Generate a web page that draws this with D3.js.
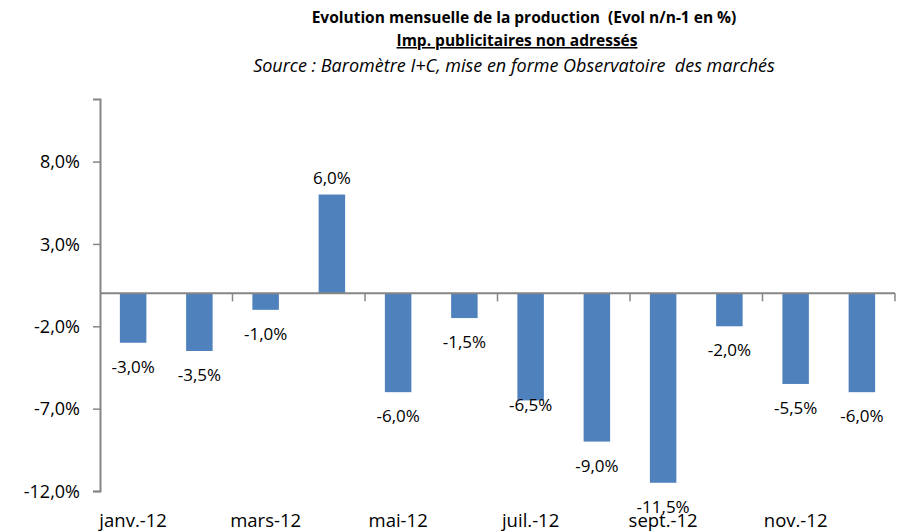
<!DOCTYPE html>
<html>
<head>
<meta charset="utf-8">
<script src="https://cdn.jsdelivr.net/npm/d3@7.9.0/dist/d3.min.js"></script>
<style>
  body { margin: 0; background: #fff; }
  text { font-family: "Open Sans", sans-serif; fill: #000; }
  .title { white-space: pre; }
</style>
</head>
<body>
<svg id="vis"></svg>
<script>
const width = 899;
const height = 532;

// data
const months = ["janv.-12", "févr.-12", "mars-12", "avr.-12", "mai-12", "juin-12",
    "juil.-12", "août-12", "sept.-12", "oct.-12", "nov.-12", "déc.-12"];
const evolution = [-3.0, -3.5, -1.0, 6.0, -6.0, -1.5, -6.5, -9.0, -11.5, -2.0, -5.5, -6.0];
const yTicks = [8, 3, -2, -7, -12];
const shownMonths = ["janv.-12", "mars-12", "mai-12", "juil.-12", "sept.-12", "nov.-12"];

const fmt = v => d3.format(".1f")(v).replace(".", ",").replace("−", "-") + "%";

const vis = d3.select("#vis")
    .attr("width", width)
    .attr("height", height);

// titles
vis.append("text")
    .attr("class", "title")
    .attr("x", 524).attr("y", 23)
    .attr("text-anchor", "middle")
    .style("font-size", "15.5px")
    .style("font-weight", "bold")
    .text("Evolution mensuelle de la production  (Evol n/n-1 en %)");

vis.append("text")
    .attr("class", "title")
    .attr("x", 517).attr("y", 46)
    .attr("text-anchor", "middle")
    .style("font-size", "15.5px")
    .style("font-weight", "bold")
    .style("text-decoration", "underline")
    .text("Imp. publicitaires non adressés");

vis.append("text")
    .attr("class", "title")
    .attr("x", 514).attr("y", 72)
    .attr("text-anchor", "middle")
    .style("font-size", "18px")
    .style("font-style", "italic")
    .text("Source : Baromètre I+C, mise en forme Observatoire  des marchés");

// scales
const x = d3.scaleBand()
    .domain(months)
    .range([100, 895])
    .paddingInner(0.6)
    .paddingOuter(0.3);

const y = d3.scaleLinear()
    .domain([-12, 11.8])
    .range([491, 99]);

const axisColor = "#868686";

// y axis
const yAxis = vis.append("g")
    .attr("transform", "translate(100,0)")
    .call(d3.axisLeft(y).tickValues(yTicks).tickSize(7).tickPadding(13).tickFormat(fmt));
yAxis.select(".domain").attr("stroke", axisColor).attr("stroke-width", 2);
yAxis.selectAll(".tick line").attr("stroke", axisColor).attr("stroke-width", 1.5);
yAxis.selectAll(".tick text")
    .style("font-size", "18px")
    .style("font-family", "'Open Sans', sans-serif")
    .attr("dy", "0.35em")
    .attr("fill", "#000");

// bars
vis.selectAll("rect.bar")
    .data(evolution)
    .join("rect")
    .attr("class", "bar")
    .attr("x", (d, i) => x(months[i]))
    .attr("y", d => y(Math.max(0, d)))
    .attr("width", x.bandwidth())
    .attr("height", d => Math.abs(y(d) - y(0)))
    .attr("fill", "#4F81BD");

// zero line with ticks every two months
const step = x.step();
const zeroAxis = vis.append("g")
    .attr("transform", `translate(0,${y(0)})`);
zeroAxis.append("line")
    .attr("x1", 100).attr("x2", 895)
    .attr("stroke", axisColor).attr("stroke-width", 2);
zeroAxis.selectAll("line.tk")
    .data(d3.range(2, 13, 2))
    .join("line")
    .attr("class", "tk")
    .attr("x1", i => 100 + i * step).attr("x2", i => 100 + i * step)
    .attr("y1", 0).attr("y2", 8)
    .attr("stroke", axisColor).attr("stroke-width", 1.5);

// month labels at the bottom
vis.selectAll("text.month")
    .data(shownMonths)
    .join("text")
    .attr("class", "month")
    .attr("x", d => x(d) + x.bandwidth() / 2)
    .attr("y", 527)
    .attr("text-anchor", "middle")
    .style("font-size", "18.5px")
    .text(d => d);

// value labels
const labelShift = { "juil.-12": -19 };
vis.selectAll("text.val")
    .data(evolution)
    .join("text")
    .attr("class", "val")
    .attr("x", (d, i) => x(months[i]) + x.bandwidth() / 2)
    .attr("y", (d, i) => d >= 0 ? y(d) - 11 : y(d) + 30 + (labelShift[months[i]] || 0))
    .attr("text-anchor", "middle")
    .style("font-size", "17px")
    .text(d => fmt(d));
</script>
</body>
</html>
